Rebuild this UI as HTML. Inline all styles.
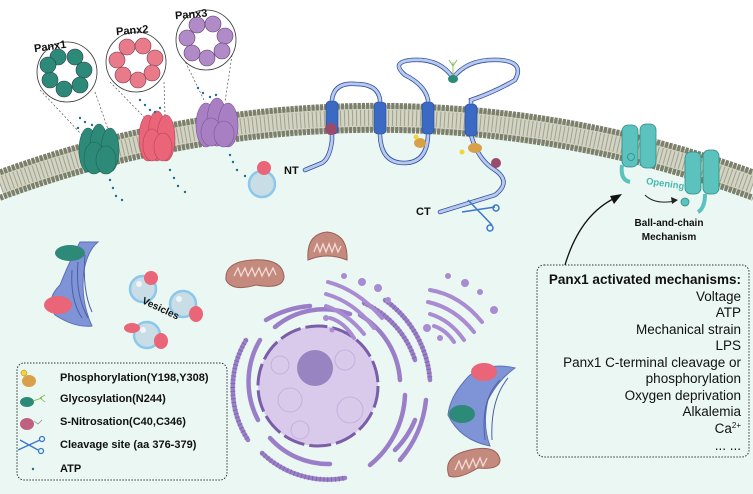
<!DOCTYPE html>
<html><head><meta charset="utf-8"><style>
html,body{margin:0;padding:0;background:#fff;width:753px;height:494px;overflow:hidden}
svg{display:block;overflow:hidden}
text{font-family:"Liberation Sans",sans-serif}
</style></head><body>
<svg width="753" height="494" viewBox="0 0 753 494" xmlns="http://www.w3.org/2000/svg">
<rect width="753" height="494" fill="#fff"/>
<!-- cell interior -->
<path d="M0 185 A1088 1088 0 0 1 753 185 L753 494 L0 494 Z" fill="#eaf7f2"/>
<!-- membrane -->
<path d="M0 185 A1088 1088 0 0 1 753 185" fill="none" stroke="#d2d3c2" stroke-width="26"/>
<path d="M0 185 A1088 1088 0 0 1 753 185" fill="none" stroke="#9fa28f" stroke-width="16" stroke-dasharray="1 3"/>
<path d="M0 172.3 A1100 1100 0 0 1 753 172.3" fill="none" stroke="#7b7f6c" stroke-width="6" stroke-dasharray="3.2 1"/>
<path d="M0 197.8 A1076 1076 0 0 1 753 197.8" fill="none" stroke="#7b7f6c" stroke-width="6" stroke-dasharray="3.2 1"/>

<!-- Zoom circles with dashed lines -->
<g stroke="#555" stroke-width="0.7" stroke-dasharray="2 2" fill="none">
<line x1="40" y1="90" x2="82" y2="135"/><line x1="95" y1="92" x2="110" y2="135"/>
<line x1="110" y1="82" x2="145" y2="118"/><line x1="164" y1="82" x2="165" y2="115"/>
<line x1="182" y1="55" x2="205" y2="102"/><line x1="232" y1="55" x2="225" y2="102"/>
</g>
<g stroke="#333" stroke-width="0.8" fill="#fff">
<circle cx="67" cy="72" r="30"/><circle cx="136" cy="62" r="30"/><circle cx="206" cy="40" r="30"/>
</g>
<g stroke="#2b3a4a" stroke-width="0.6" fill="#2e8a78">
<circle cx="58" cy="57" r="8"/><circle cx="75" cy="57" r="8"/><circle cx="84" cy="70" r="8"/><circle cx="80" cy="85" r="8"/><circle cx="64" cy="89" r="8"/><circle cx="50" cy="80" r="8"/><circle cx="48" cy="65" r="8"/>
</g>
<g stroke="#6b3a4a" stroke-width="0.6" fill="#e97a8a">
<circle cx="127" cy="47" r="8"/><circle cx="143" cy="46" r="8"/><circle cx="155" cy="58" r="8"/><circle cx="152" cy="73" r="8"/><circle cx="138" cy="80" r="8"/><circle cx="123" cy="75" r="8"/><circle cx="117" cy="60" r="8"/>
</g>
<g stroke="#5a3a6a" stroke-width="0.6" fill="#b08bc8">
<circle cx="197" cy="25" r="8"/><circle cx="213" cy="24" r="8"/><circle cx="225" cy="36" r="8"/><circle cx="222" cy="51" r="8"/><circle cx="207" cy="58" r="8"/><circle cx="192" cy="53" r="8"/><circle cx="187" cy="38" r="8"/>
</g>
<g font-size="11" font-weight="bold" fill="#111">
<text x="34" y="50" transform="rotate(-8 50 47)">Panx1</text>
<text x="116" y="34" transform="rotate(-5 131 30)">Panx2</text>
<text x="175" y="18" transform="rotate(-5 190 15)">Panx3</text>
</g>

<!-- channels -->
<g fill="#2e8a78" stroke="#1f6456" stroke-width="0.6">
<ellipse cx="88" cy="150" rx="9" ry="22"/><ellipse cx="99" cy="148" rx="9" ry="24"/><ellipse cx="110" cy="150" rx="9" ry="22"/>
<ellipse cx="94" cy="158" rx="10" ry="16"/><ellipse cx="106" cy="160" rx="10" ry="14"/>
</g>
<g fill="#e96577" stroke="#b8455a" stroke-width="0.6">
<ellipse cx="148" cy="138" rx="9" ry="23"/><ellipse cx="157" cy="136" rx="9" ry="25"/><ellipse cx="166" cy="138" rx="9" ry="23"/>
<ellipse cx="152" cy="145" rx="9" ry="16"/><ellipse cx="163" cy="147" rx="9" ry="14"/>
</g>
<g fill="#a77fc2" stroke="#7a5896" stroke-width="0.6">
<ellipse cx="206" cy="125" rx="10" ry="22"/><ellipse cx="217" cy="122" rx="10" ry="24"/><ellipse cx="228" cy="125" rx="10" ry="22"/>
<ellipse cx="211" cy="132" rx="10" ry="14"/><ellipse cx="224" cy="134" rx="10" ry="13"/>
</g>
<!-- ATP dots -->
<g fill="#1f6f8a">
<circle cx="78" cy="128" r="1.2"/><circle cx="85" cy="122" r="1.2"/><circle cx="92" cy="125" r="1.2"/><circle cx="80" cy="118" r="1.2"/>
<circle cx="110" cy="180" r="1.2"/><circle cx="113" cy="188" r="1.2"/><circle cx="116" cy="196" r="1.2"/><circle cx="122" cy="200" r="1.2"/>
<circle cx="145" cy="105" r="1.2"/><circle cx="150" cy="110" r="1.2"/><circle cx="155" cy="112" r="1.2"/><circle cx="140" cy="100" r="1.2"/><circle cx="160" cy="108" r="1.2"/>
<circle cx="170" cy="170" r="1.2"/><circle cx="174" cy="178" r="1.2"/><circle cx="178" cy="186" r="1.2"/><circle cx="185" cy="192" r="1.2"/>
<circle cx="203" cy="93" r="1.2"/><circle cx="210" cy="97" r="1.2"/><circle cx="216" cy="95" r="1.2"/><circle cx="198" cy="88" r="1.2"/>
<circle cx="230" cy="155" r="1.2"/><circle cx="233" cy="162" r="1.2"/><circle cx="237" cy="170" r="1.2"/><circle cx="245" cy="176" r="1.2"/>
</g>
<!-- vesicle near membrane -->
<circle cx="262" cy="184" r="13" fill="#c9dde6" stroke="#8cc8ec" stroke-width="2.5"/>
<ellipse cx="264" cy="168" rx="7" ry="7" fill="#e96577"/>

<!-- protein -->
<g fill="none" stroke-linecap="round">
<path d="M305 170 L322 163 Q330 158 332 140 L332 100 Q334 82 356 84 Q378 84 380 100 L380 135 Q381 163 404 163 Q427 163 428 135 L428 100 Q425 85 405 75 Q390 62 412 60 Q440 58 453 78 Q468 58 500 60 Q525 62 515 80 Q495 92 471 100 L471 135 Q478 160 495 170 Q512 182 495 195 L440 212" stroke="#2d4f9f" stroke-width="4.5"/>
<path d="M305 170 L322 163 Q330 158 332 140 L332 100 Q334 82 356 84 Q378 84 380 100 L380 135 Q381 163 404 163 Q427 163 428 135 L428 100 Q425 85 405 75 Q390 62 412 60 Q440 58 453 78 Q468 58 500 60 Q525 62 515 80 Q495 92 471 100 L471 135 Q478 160 495 170 Q512 182 495 195 L440 212" stroke="#b8c8ee" stroke-width="3" stroke-dasharray="0.8 1.2"/>
</g>
<g fill="#3a6ac4" stroke="#244a96" stroke-width="0.6">
<rect x="326" y="101" width="12" height="33" rx="4"/><rect x="374" y="102" width="12" height="32" rx="4"/><rect x="422" y="102" width="12" height="32" rx="4"/><rect x="465" y="104" width="12" height="32" rx="4"/>
</g>
<ellipse cx="331" cy="129" rx="6" ry="6" fill="#9a4a6a"/>
<ellipse cx="420" cy="143" rx="6" ry="5" fill="#d9a04a"/><circle cx="416" cy="137" r="2.5" fill="#f5d33a"/>
<ellipse cx="475" cy="148" rx="7" ry="5" fill="#d9a04a"/><circle cx="462" cy="152" r="2.5" fill="#f5d33a"/>
<ellipse cx="496" cy="163" rx="5" ry="5" fill="#9a4a6a"/>
<ellipse cx="453" cy="79" rx="5" ry="4" fill="#2e8a78"/>
<path d="M453 75 L453 62 M453 66 L449 60 M453 66 L457 60" stroke="#7ab845" stroke-width="0.8" fill="none"/>
<!-- scissors -->
<g stroke="#3a78c8" stroke-width="1.5" fill="none">
<line x1="468" y1="200" x2="492" y2="225"/><line x1="462" y1="212" x2="495" y2="207"/>
<circle cx="496" cy="208" r="3"/><circle cx="490" cy="228" r="3"/>
</g>
<text x="284" y="174" font-size="11" font-weight="bold" fill="#111">NT</text>
<text x="416" y="215" font-size="11" font-weight="bold" fill="#111">CT</text>

<!-- ball-and-chain channels -->
<g fill="#5cc2bd" stroke="#2e8a86" stroke-width="0.8">
<rect x="622" y="125" width="16" height="42" rx="6"/><rect x="640" y="124" width="16" height="44" rx="6"/>
<path d="M622 165 Q620 180 630 182" fill="none" stroke="#5cc2bd" stroke-width="4"/>
<circle cx="631" cy="157" r="3.5"/>
<rect x="685" y="152" width="16" height="42" rx="6"/><rect x="703" y="150" width="16" height="44" rx="6"/>
<path d="M705 194 Q705 208 698 212" fill="none" stroke="#5cc2bd" stroke-width="4"/>
<circle cx="685" cy="202" r="4"/>
</g>
<text x="646" y="186" font-size="9.5" font-weight="bold" fill="#4cb8b2" transform="rotate(8 660 183)">Opening</text>
<path d="M645 195 Q655 205 675 201" stroke="#222" stroke-width="1" fill="none"/>
<polygon points="678,200 671,197 672,204" fill="#222"/>
<text x="669" y="226" font-size="10" font-weight="bold" fill="#111" text-anchor="middle">Ball-and-chain</text>
<text x="669" y="240" font-size="10" font-weight="bold" fill="#111" text-anchor="middle">Mechanism</text>
<path d="M565 265 Q580 215 615 198" stroke="#111" stroke-width="1.3" fill="none"/>
<polygon points="622,194 610,196 614,204" fill="#111"/>

<!-- left ER -->
<path d="M80 242 Q70 260 60 285 Q45 300 55 315 Q75 328 92 326 Q80 300 84 270 Q88 250 98 242Z" fill="#7f94d6" stroke="#5d6fb5"/>
<g stroke="#4d5fa5" fill="none" stroke-width="1"><path d="M72 270 Q70 300 82 318"/><path d="M78 262 Q75 295 88 318"/><path d="M85 255 Q82 290 92 312"/></g>
<ellipse cx="70" cy="253" rx="15" ry="8" fill="#2e8a78"/>
<ellipse cx="58" cy="305" rx="14" ry="9" fill="#e96577"/>
<!-- vesicles -->
<g fill="#c9dde6" stroke="#8cc8ec" stroke-width="2.5">
<circle cx="143" cy="289" r="13"/><circle cx="183" cy="304" r="13"/><circle cx="147" cy="335" r="13"/>
</g>
<g fill="#fff" opacity="0.7"><circle cx="139" cy="284" r="3"/><circle cx="179" cy="299" r="3"/><circle cx="143" cy="330" r="3"/></g>
<g fill="#e96577">
<ellipse cx="151" cy="278" rx="7" ry="7"/><ellipse cx="196" cy="314" rx="7" ry="8"/>
<ellipse cx="132" cy="328" rx="8" ry="5"/><ellipse cx="161" cy="341" rx="7" ry="8"/>
</g>
<text x="138" y="312" font-size="10" font-weight="bold" fill="#111" transform="rotate(25 160 315)">Vesicles</text>
<!-- mitochondria -->
<g fill="#c48a7e" stroke="#9a6258" stroke-width="1">
<path d="M308 260 Q306 234 327 232 Q348 234 347 260 Q327 252 308 260Z"/>
<path d="M226 280 Q224 262 252 260 Q282 258 284 276 Q284 290 256 285 Q232 292 226 280Z"/>
<path d="M449 476 Q442 456 470 450 Q497 444 500 460 Q500 470 478 468 Q458 480 449 476Z"/>
</g>
<g fill="none" stroke="#f3dcd6" stroke-width="1.3">
<path d="M234 276 l4 -8 l3 8 l4 -8 l3 8 l4 -8 l3 8 l4 -8 l3 8 l4 -8 l3 8 l4 -8 l3 7"/>
<path d="M455 470 l4 -9 l3 8 l4 -9 l3 8 l4 -9 l3 8 l4 -9 l3 8 l4 -8"/>
<path d="M314 252 l3 -8 l3 8 l3 -8 l3 8 l3 -8 l3 8 l3 -8 l3 8 l3 -6"/>
</g>
<!-- nucleus ER -->
<g fill="none" stroke="#9b7ec8" stroke-width="4.5" stroke-linecap="round">
<path d="M275 327 A76 76 0 0 1 350 314"/>
<path d="M260 340 A82 82 0 0 0 258 420"/>
<path d="M270 438 A78 78 0 0 0 330 464"/>
<path d="M360 315 A82 82 0 0 1 400 380"/>
<path d="M246 340 A95 95 0 0 0 248 440"/>
<path d="M262 453 A95 95 0 0 0 345 478"/>
<path d="M364 303 A95 95 0 0 1 415 360"/>
<path d="M405 395 A95 95 0 0 1 370 465"/>
<path d="M385 300 A108 108 0 0 1 430 380"/>
<path d="M426 400 A108 108 0 0 1 400 460"/>
<path d="M266 320 A100 100 0 0 1 310 306"/>
<path d="M395 450 A90 90 0 0 0 415 420"/>
</g>
<g fill="none" stroke="#5d4a8a" stroke-width="5.5" stroke-dasharray="0.8 3" opacity="0.5">
<path d="M246 340 A95 95 0 0 0 248 440"/><path d="M364 303 A95 95 0 0 1 415 360"/><path d="M385 300 A108 108 0 0 1 430 380"/><path d="M262 453 A95 95 0 0 0 345 478"/>
</g>
<circle cx="318" cy="386" r="60" fill="#d9c9ea" stroke="#7a5ea8" stroke-width="3" stroke-dasharray="22 5"/>
<g fill="none" stroke="#c0acdc" stroke-width="0.8"><circle cx="290" cy="400" r="12"/><circle cx="345" cy="360" r="10"/><circle cx="350" cy="410" r="13"/><circle cx="300" cy="430" r="9"/><circle cx="280" cy="365" r="9"/></g>
<circle cx="315" cy="368" r="18" fill="#9784c0"/>
<!-- golgi -->
<g fill="none" stroke="#a98bd2" stroke-width="4" stroke-linecap="round">
<path d="M328 282 Q358 290 382 318"/><path d="M326 294 Q354 302 374 328"/><path d="M326 306 Q348 314 364 334"/><path d="M330 318 Q344 322 354 338"/>
<path d="M430 290 Q460 295 482 322"/><path d="M428 302 Q455 308 474 332"/><path d="M430 314 Q450 320 464 340"/><path d="M434 326 Q446 330 454 342"/>
</g>
<g fill="#a98bd2">
<circle cx="344" cy="276" r="3"/><circle cx="362" cy="282" r="4"/><circle cx="378" cy="288" r="4"/><circle cx="388" cy="300" r="3"/><circle cx="326" cy="318" r="3"/><circle cx="332" cy="330" r="2.5"/>
<circle cx="448" cy="276" r="3"/><circle cx="465" cy="283" r="4"/><circle cx="480" cy="292" r="3"/><circle cx="494" cy="310" r="4"/><circle cx="427" cy="328" r="4"/><circle cx="440" cy="338" r="3"/>
</g>
<!-- right ER -->
<path d="M515 368 Q490 362 470 375 Q450 395 448 415 Q460 440 490 446 Q482 425 488 400 Q498 380 515 368Z" fill="#7f94d6" stroke="#5d6fb5"/>
<g stroke="#4d5fa5" fill="none" stroke-width="1"><path d="M500 380 Q480 400 485 440"/><path d="M508 378 Q490 400 492 440"/></g>
<ellipse cx="484" cy="372" rx="13" ry="9" fill="#e96577"/>
<ellipse cx="462" cy="414" rx="13" ry="9" fill="#2e8a78"/>

<!-- legend -->
<rect x="17" y="363" width="210" height="117" rx="7" fill="none" stroke="#333" stroke-width="1" stroke-dasharray="1.5 1.5"/>
<ellipse cx="29" cy="381" rx="7" ry="6" fill="#d9a04a"/><circle cx="24" cy="373" r="3" fill="#f5d33a" stroke="#a08020" stroke-width="0.5"/>
<ellipse cx="27" cy="402" rx="7" ry="5" fill="#2e8a78"/><path d="M33 401 L42 398 M40 398 L45 395 M40 398 L45 402" stroke="#7ab845" stroke-width="0.8" fill="none"/>
<ellipse cx="27" cy="424" rx="7" ry="6" fill="#c06080"/><path d="M34 421 L38 424 L42 420" stroke="#888" stroke-width="0.7" fill="none"/>
<g stroke="#3a78c8" stroke-width="1.3" fill="none"><line x1="18" y1="450" x2="40" y2="440"/><line x1="20" y1="440" x2="38" y2="450"/><circle cx="42" cy="439" r="2.5"/><circle cx="41" cy="451" r="2.5"/></g>
<circle cx="33" cy="469" r="1.2" fill="#1f6f8a"/>
<g font-size="11" font-weight="bold" fill="#111">
<text x="60" y="381">Phosphorylation(Y198,Y308)</text>
<text x="60" y="402">Glycosylation(N244)</text>
<text x="60" y="425">S-Nitrosation(C40,C346)</text>
<text x="60" y="448">Cleavage site (aa 376-379)</text>
<text x="60" y="472">ATP</text>
</g>

<!-- mechanisms -->
<rect x="537" y="265" width="212" height="192" rx="7" fill="none" stroke="#333" stroke-width="1" stroke-dasharray="1.5 1.5"/>
<g font-size="13.5" fill="#111" text-anchor="end">
<text x="741" y="284" font-weight="bold">Panx1 activated mechanisms:</text>
<text x="741" y="301">Voltage</text>
<text x="741" y="317">ATP</text>
<text x="741" y="334">Mechanical strain</text>
<text x="741" y="350">LPS</text>
<text x="741" y="367">Panx1 C-terminal cleavage or</text>
<text x="741" y="383">phosphorylation</text>
<text x="741" y="400">Oxygen deprivation</text>
<text x="741" y="416">Alkalemia</text>
<text x="741" y="433">Ca<tspan font-size="8" dy="-5">2+</tspan></text>
<text x="741" y="450">... ...</text>
</g>
</svg>
</body></html>
